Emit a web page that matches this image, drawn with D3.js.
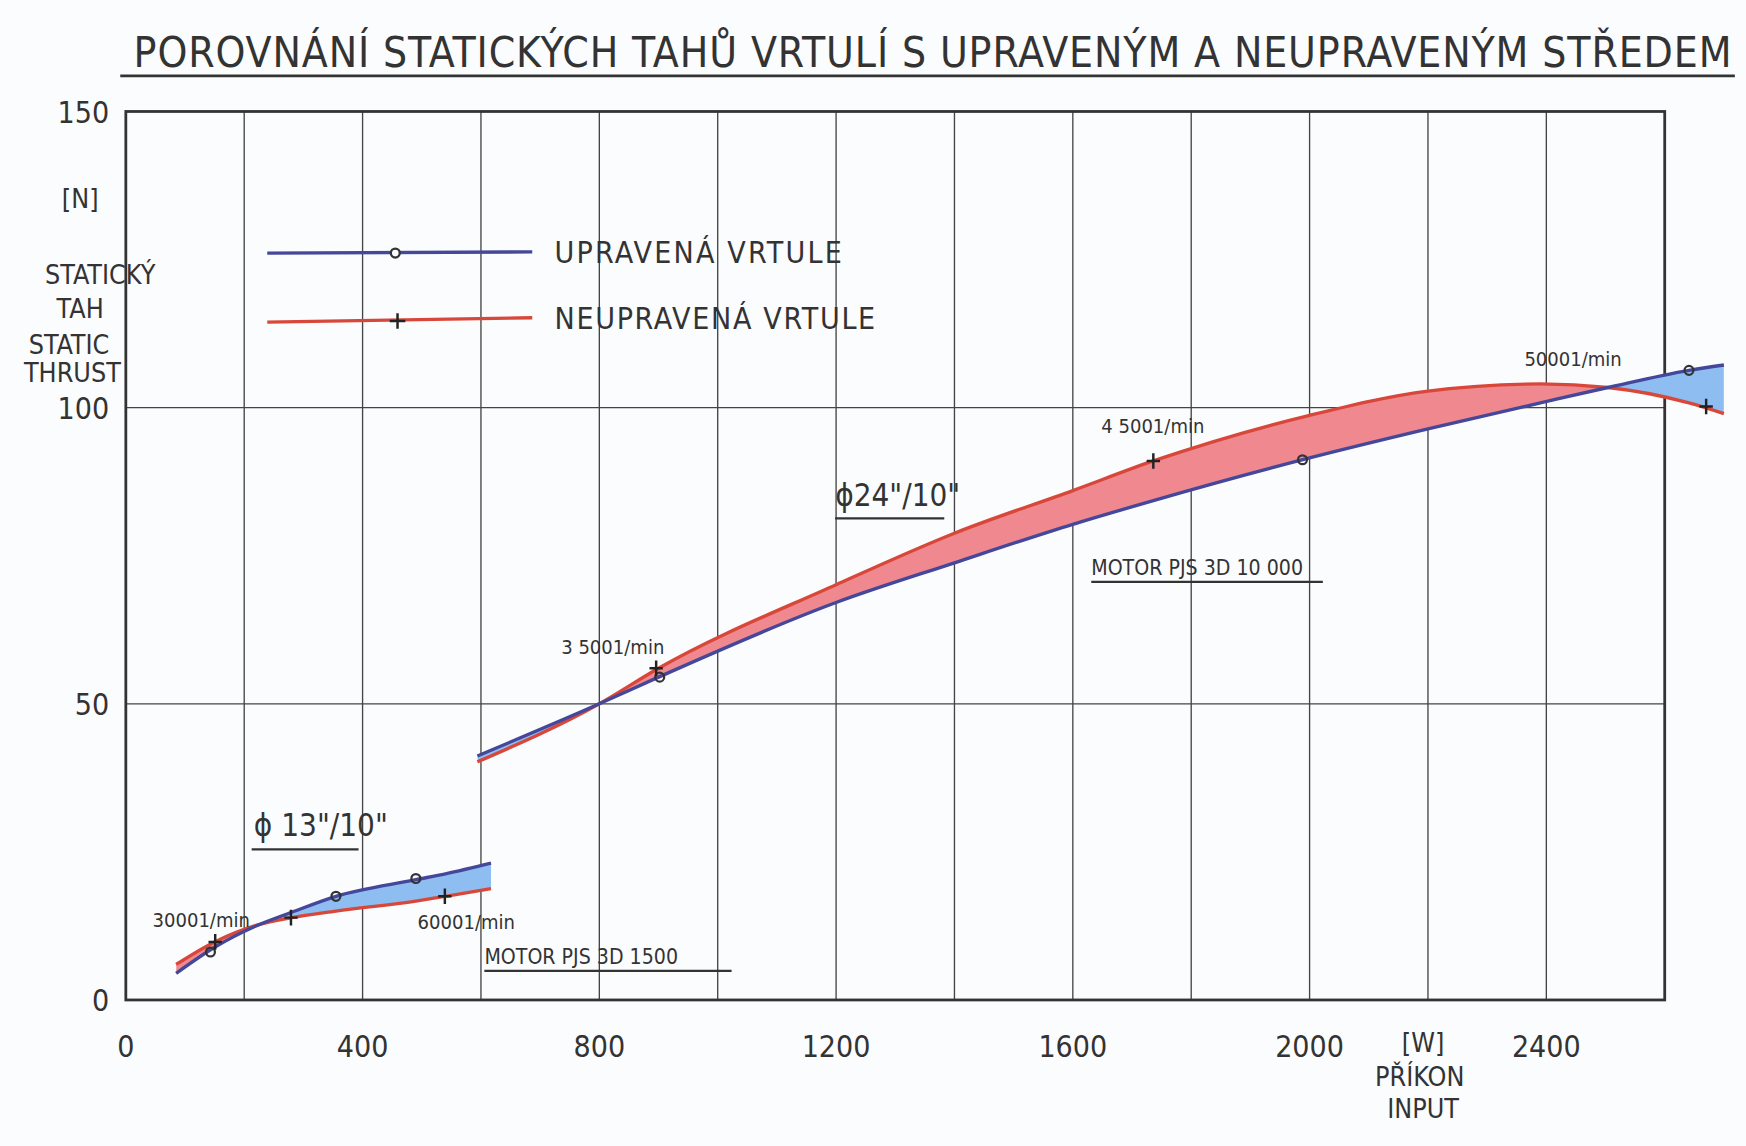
<!DOCTYPE html><html><head><meta charset="utf-8">
<script src="https://cdn.jsdelivr.net/npm/d3@7"></script>
<style>body{margin:0;background:#fbfcfd}text{font-family:"Liberation Sans Narrow","DejaVu Sans Condensed",sans-serif;fill:#333}</style>
</head><body><script>
const xTicks=[0,400,800,1200,1600,2000,2400];
const yTicks=[0,50,100,150];
const smallX=[85,150,220,280,355,490,540,617];
const smallBlue=[4.5,8.9,12.5,14.8,17.5,20.3,21.3,23.1];
const smallRed=[6,9.8,12.6,13.9,15,16.7,17.5,18.8];
const largeX=[594,800,900,1200,1400,1600,1736,2000,2200,2390,2504,2641,2700];
const largeBlue=[41.2,50,54.5,67.1,73.8,80.3,84.3,91.5,96.4,100.8,103.4,106.3,107.2];
const largeRed=[40.2,50,56,70.1,78.8,86,91,98.7,102.8,104,103.4,100.8,99];
const bluePtsX=[143,355,490,902,1988,2641];
const bluePtsY=[8.1,17.5,20.5,54.5,91.2,106.3];
const redPtsX=[151,279,539,896,1736,2670];
const redPtsY=[9.8,13.9,17.5,56,91,100.2];
const rpmLabels=[["30001/min",137,832],["60001/min",375,833],["3 5001/min",504,587],["4 5001/min",989,388],["50001/min",1369,328]];

const svg=d3.select("body").append("svg").attr("width",1746).attr("height",1146)
 .attr("viewBox","0 0 1568 1028").attr("preserveAspectRatio","none");
const x=d3.scaleLinear().domain([0,2600]).range([113,1495]);
const y=d3.scaleLinear().domain([0,150]).range([897,100]);
const g=svg.append("g");
for(let v=200;v<2600;v+=200) g.append("line").attr("x1",x(v)).attr("x2",x(v)).attr("y1",y(0)).attr("y2",y(150)).attr("stroke","#444").attr("stroke-width",1.2);
[50,100].forEach(v=>g.append("line").attr("x1",x(0)).attr("x2",x(2600)).attr("y1",y(v)).attr("y2",y(v)).attr("stroke","#444").attr("stroke-width",1.2));
g.append("rect").attr("x",x(0)).attr("y",y(150)).attr("width",x(2600)-x(0)).attr("height",y(0)-y(150)).attr("fill","none").attr("stroke","#333").attr("stroke-width",2.5);
xTicks.forEach(v=>svg.append("text").attr("x",x(v)).attr("y",948).attr("text-anchor","middle").attr("font-size",27).text(v));
yTicks.forEach(v=>svg.append("text").attr("x",98).attr("y",y(v)+10).attr("text-anchor","end").attr("font-size",27).text(v));
const curve=d3.curveMonotoneX;
function band(xs,b,r,id){
 const pts=xs.map((v,i)=>({x:v,b:b[i],r:r[i]}));
 const defs=svg.append("defs");
 defs.append("clipPath").attr("id","ab"+id).append("path").attr("d",d3.area().curve(curve).x(d=>x(d.x)).y0(d=>y(d.b)).y1(0)(pts));
 defs.append("clipPath").attr("id","ar"+id).append("path").attr("d",d3.area().curve(curve).x(d=>x(d.x)).y0(d=>y(d.r)).y1(0)(pts));
 svg.append("path").attr("clip-path",`url(#ab${id})`).attr("fill","#f0888f").attr("d",d3.area().curve(curve).x(d=>x(d.x)).y0(d=>y(d.r)).y1(1028)(pts));
 svg.append("path").attr("clip-path",`url(#ar${id})`).attr("fill","#8ebdf2").attr("d",d3.area().curve(curve).x(d=>x(d.x)).y0(d=>y(d.b)).y1(1028)(pts));
 svg.append("path").attr("fill","none").attr("stroke","#d8483a").attr("stroke-width",3).attr("d",d3.line().curve(curve).x(d=>x(d.x)).y(d=>y(d.r))(pts));
 svg.append("path").attr("fill","none").attr("stroke","#45479a").attr("stroke-width",3).attr("d",d3.line().curve(curve).x(d=>x(d.x)).y(d=>y(d.b))(pts));
}
band(smallX,smallBlue,smallRed,1);
band(largeX,largeBlue,largeRed,2);
bluePtsX.forEach((v,i)=>svg.append("circle").attr("cx",x(v)).attr("cy",y(bluePtsY[i])).attr("r",4).attr("fill","none").attr("stroke","#333").attr("stroke-width",2));
redPtsX.forEach((v,i)=>{const cx=x(v),cy=y(redPtsY[i]);
 svg.append("path").attr("d",`M${cx-6},${cy}H${cx+6}M${cx},${cy-7}V${cy+7}`).attr("stroke","#222").attr("stroke-width",2.2);});
svg.append("line").attr("x1",240).attr("x2",478).attr("y1",227).attr("y2",226).attr("stroke","#45479a").attr("stroke-width",3);
svg.append("circle").attr("cx",355).attr("cy",227).attr("r",4).attr("fill","#fbfcfd").attr("stroke","#333").attr("stroke-width",2);
svg.append("line").attr("x1",240).attr("x2",478).attr("y1",289).attr("y2",285).attr("stroke","#d8483a").attr("stroke-width",3);
svg.append("path").attr("d","M350,288H364M357,281V295").attr("stroke","#222").attr("stroke-width",2.2);
svg.append("text").attr("x",498).attr("y",236).attr("font-size",27).attr("textLength",258).text("UPRAVENÁ VRTULE");
svg.append("text").attr("x",498).attr("y",295).attr("font-size",27).attr("textLength",288).text("NEUPRAVENÁ VRTULE");
svg.append("text").attr("x",120).attr("y",60).attr("font-size",38).attr("textLength",1435).text("POROVNÁNÍ STATICKÝCH  TAHŮ VRTULÍ S UPRAVENÝM A NEUPRAVENÝM STŘEDEM");
svg.append("line").attr("x1",108).attr("x2",1558).attr("y1",68).attr("y2",68).attr("stroke","#333").attr("stroke-width",2.5);
[["[N]",72,187],["STATICKÝ",90,255],["TAH",72,285],["STATIC",62,318],["THRUST",65,343]].forEach(t=>svg.append("text").attr("x",t[1]).attr("y",t[2]).attr("text-anchor","middle").attr("font-size",24).text(t[0]));
[["[W]",1278,944],["PŘÍKON",1275,974],["INPUT",1278,1003]].forEach(t=>svg.append("text").attr("x",t[1]).attr("y",t[2]).attr("text-anchor","middle").attr("font-size",24).text(t[0]));
rpmLabels.forEach(t=>svg.append("text").attr("x",t[1]).attr("y",t[2]).attr("font-size",18).text(t[0]));
[["ϕ 13\"/10\"",228,750,226,322,762,28],["ϕ24\"/10\"",750,454,750,848,465,28],["MOTOR  PJS  3D 1500",435,865,435,657,871,19],["MOTOR  PJS  3D 10 000",980,516,980,1188,522,19]].forEach(t=>{
 svg.append("text").attr("x",t[1]).attr("y",t[2]).attr("font-size",t[6]).text(t[0]);
 svg.append("line").attr("x1",t[3]).attr("x2",t[4]).attr("y1",t[5]).attr("y2",t[5]).attr("stroke","#333").attr("stroke-width",2);});
</script></body></html>
